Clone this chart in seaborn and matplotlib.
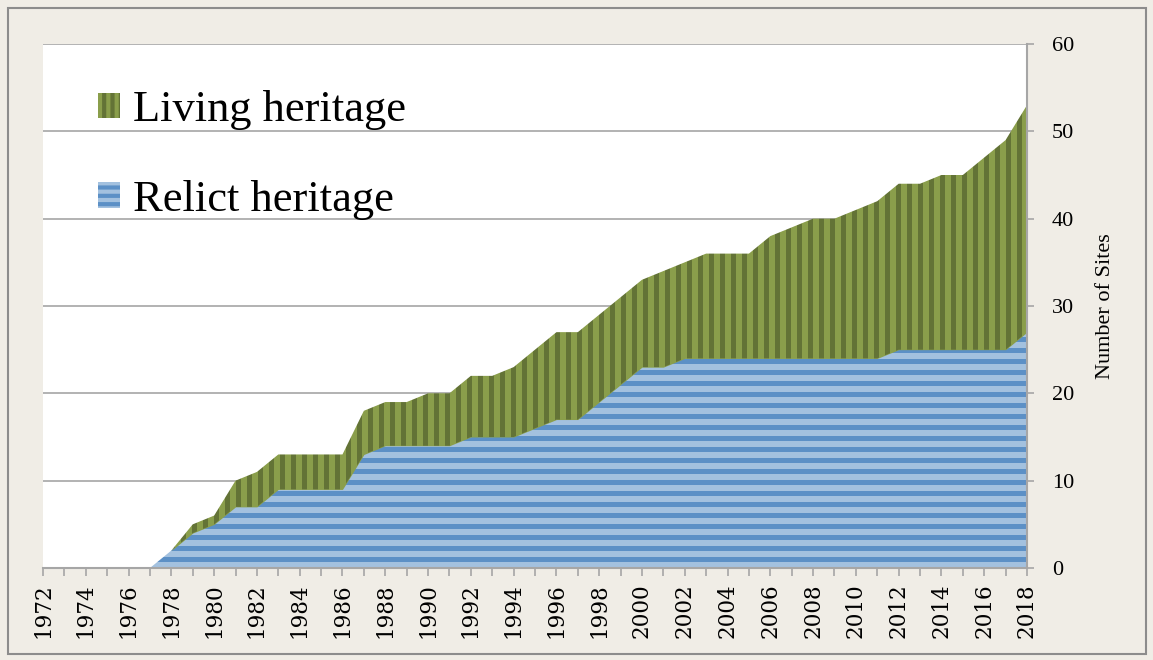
import numpy as np
import matplotlib
matplotlib.use("Agg")
import matplotlib.pyplot as plt
import seaborn as sns
from matplotlib.colors import ListedColormap
from matplotlib.patches import Patch, Rectangle
from matplotlib.ticker import MultipleLocator

# data (number of sites per year, stacked)
years = list(range(1972, 2019))
relict = [0, 0, 0, 0, 0, 0, 2, 4, 5, 7, 7, 9, 9, 9, 9, 13, 14, 14, 14, 14,
          15, 15, 15, 16, 17, 17, 19, 21, 23, 23, 24, 24, 24, 24, 24, 24,
          24, 24, 24, 24, 25, 25, 25, 25, 25, 25, 27]
living = [0, 0, 0, 0, 0, 0, 0, 1, 1, 3, 4, 4, 4, 4, 4, 5, 5, 5, 6, 6,
          7, 7, 8, 9, 10, 10, 10, 10, 10, 11, 11, 12, 12, 12, 14, 15,
          16, 16, 17, 18, 19, 19, 20, 20, 22, 24, 26]
series_names = ["Living heritage", "Relict heritage"]
y_ticks = [0, 10, 20, 30, 40, 50, 60]

BG = "#F0EDE6"
GRID = "#A6A6A6"
GREEN_DARK, GREEN_LIGHT = "#637336", "#8A9E4B"
BLUE_DARK, BLUE_LIGHT = "#5C90C6", "#A3C1DF"

sns.set_theme(style="white")
plt.rcParams["font.family"] = ["Liberation Serif", "DejaVu Serif"]
plt.rcParams["hatch.linewidth"] = 3.0
plt.rcParams["text.color"] = "black"
plt.rcParams["axes.labelcolor"] = "black"

fig = plt.figure(figsize=(11.53, 6.6), dpi=100, facecolor=BG)
ax = fig.add_axes([43 / 1153, 92 / 660, 984 / 1153, 524 / 660])
ax.set_facecolor("white")

x = np.array(years)
rel = np.array(relict)
top = rel + np.array(living)


def striped_fill(lo, hi, dark, light, vertical):
    poly = ax.fill_between(x, lo, hi, facecolor=light, linewidth=0, zorder=2)
    # stripe pattern ~11 px period, clipped to the area
    if vertical:
        arr = ((np.arange(984) // 5.5) % 2)[None, :]
    else:
        arr = ((np.arange(524) // 5.5) % 2)[:, None]
    im = ax.imshow(arr, extent=(1972, 2018, 0, 60), aspect="auto", origin="lower",
                   cmap=ListedColormap([light, dark]), interpolation="nearest", zorder=2)
    im.set_clip_path(poly.get_paths()[0], transform=ax.transData)


striped_fill(0, rel, BLUE_DARK, BLUE_LIGHT, vertical=False)
striped_fill(rel, top, GREEN_DARK, GREEN_LIGHT, vertical=True)

ax.set_xlim(1972, 2018)
ax.set_ylim(0, 60)

# grid and axes
ax.set_axisbelow(True)
ax.yaxis.grid(True, color=GRID, linewidth=1.2)
ax.xaxis.grid(False)
sns.despine(ax=ax, left=True, top=True, right=False, bottom=False)
for s in ["right", "bottom"]:
    ax.spines[s].set_color(GRID)
    ax.spines[s].set_linewidth(1.5)
    ax.spines[s].set_zorder(3)

ax.yaxis.tick_right()
ax.yaxis.set_label_position("right")
ax.set_yticks(y_ticks)
ax.tick_params(axis="y", which="major", direction="out", length=5, width=1.2,
               color=GRID, labelcolor="black", pad=13, labelsize=16,
               left=False, right=True)
ax.set_ylabel("Number of Sites", fontsize=16, labelpad=16)

ax.xaxis.set_major_locator(MultipleLocator(2))
ax.xaxis.set_minor_locator(MultipleLocator(1))
ax.tick_params(axis="x", which="both", direction="out", length=6, width=1.2,
               color=GRID, labelcolor="black", bottom=True)
ax.tick_params(axis="x", which="major", pad=5)
for lab in ax.get_xticklabels():
    lab.set_family("DejaVu Serif")
    lab.set_fontsize(15.5)
    lab.set_rotation(90)

handles = [
    Patch(facecolor=GREEN_LIGHT, edgecolor=GREEN_DARK, hatch="||", linewidth=0),
    Patch(facecolor=BLUE_LIGHT, edgecolor=BLUE_DARK, hatch="--", linewidth=0),
]
ax.legend(handles, series_names, loc="upper left", bbox_to_anchor=(0.056, 0.912),
          frameon=False, fontsize=32, handlelength=0.5, handleheight=0.5,
          handletextpad=0.28, labelspacing=1.12, borderpad=0, borderaxespad=0)

# outer chart frame
fig.patches.append(Rectangle((8 / 1153, 6 / 660), 1138 / 1153, 646 / 660,
                             transform=fig.transFigure, fill=False,
                             edgecolor="#8C8C8C", linewidth=1.5))

fig.savefig("out.png", dpi=100, facecolor=BG)
